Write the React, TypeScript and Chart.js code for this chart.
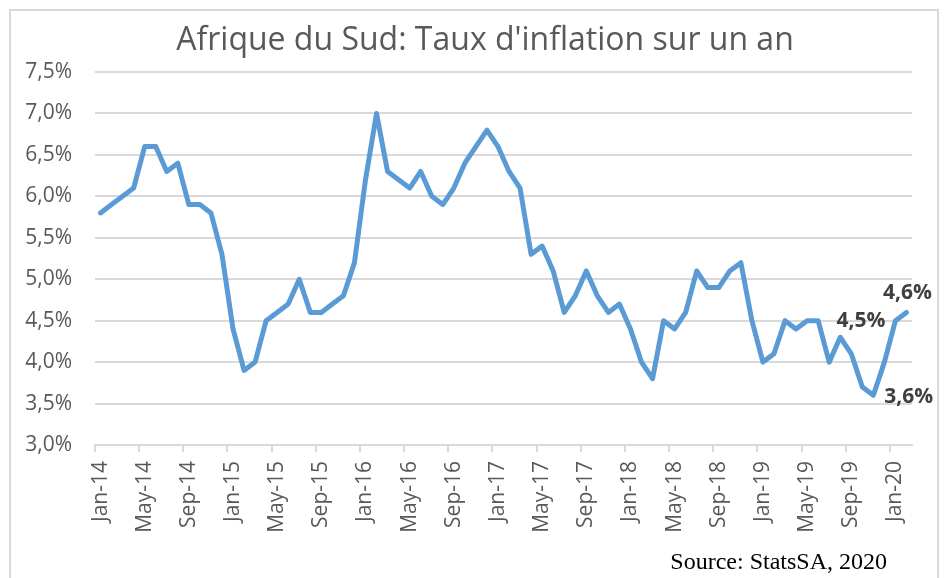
import React, { useEffect, useRef } from 'react';
import { Chart, registerables } from 'chart.js';

Chart.register(...registerables);

const TITLE = "Afrique du Sud: Taux d'inflation sur un an";
const SOURCE = 'Source: StatsSA, 2020';

const months: string[] = [
  'Jan-14', 'Feb-14', 'Mar-14', 'Apr-14', 'May-14', 'Jun-14', 'Jul-14', 'Aug-14', 'Sep-14', 'Oct-14', 'Nov-14', 'Dec-14',
  'Jan-15', 'Feb-15', 'Mar-15', 'Apr-15', 'May-15', 'Jun-15', 'Jul-15', 'Aug-15', 'Sep-15', 'Oct-15', 'Nov-15', 'Dec-15',
  'Jan-16', 'Feb-16', 'Mar-16', 'Apr-16', 'May-16', 'Jun-16', 'Jul-16', 'Aug-16', 'Sep-16', 'Oct-16', 'Nov-16', 'Dec-16',
  'Jan-17', 'Feb-17', 'Mar-17', 'Apr-17', 'May-17', 'Jun-17', 'Jul-17', 'Aug-17', 'Sep-17', 'Oct-17', 'Nov-17', 'Dec-17',
  'Jan-18', 'Feb-18', 'Mar-18', 'Apr-18', 'May-18', 'Jun-18', 'Jul-18', 'Aug-18', 'Sep-18', 'Oct-18', 'Nov-18', 'Dec-18',
  'Jan-19', 'Feb-19', 'Mar-19', 'Apr-19', 'May-19', 'Jun-19', 'Jul-19', 'Aug-19', 'Sep-19', 'Oct-19', 'Nov-19', 'Dec-19',
  'Jan-20', 'Feb-20',
];

const inflation: number[] = [
  5.8, 5.9, 6.0, 6.1, 6.6, 6.6, 6.3, 6.4, 5.9, 5.9, 5.8, 5.3,
  4.4, 3.9, 4.0, 4.5, 4.6, 4.7, 5.0, 4.6, 4.6, 4.7, 4.8, 5.2,
  6.2, 7.0, 6.3, 6.2, 6.1, 6.3, 6.0, 5.9, 6.1, 6.4, 6.6, 6.8,
  6.6, 6.3, 6.1, 5.3, 5.4, 5.1, 4.6, 4.8, 5.1, 4.8, 4.6, 4.7,
  4.4, 4.0, 3.8, 4.5, 4.4, 4.6, 5.1, 4.9, 4.9, 5.1, 5.2, 4.5,
  4.0, 4.1, 4.5, 4.4, 4.5, 4.5, 4.0, 4.3, 4.1, 3.7, 3.6, 4.0,
  4.5, 4.6,
];

const Y_MIN = 3.0;
const Y_MAX = 7.5;
const Y_STEP = 0.5;
const X_TICK_EVERY = 4;

const labelledIndices: number[] = [73, 72, 70];
const labelledPlacements: string[] = ['above', 'left', 'right'];

const fmtPct = (v: number) => v.toFixed(1).replace('.', ',') + '%';

const GREY_TEXT = '#595959';
const GRID = '#d9d9d9';
const LINE = '#5b9bd5';
const FONT = '"Open Sans", "Noto Sans", sans-serif';

const decorPlugin = {
  id: 'decor',
  afterDraw(chart: any) {
    const ctx = chart.ctx;
    ctx.save();
    // title
    ctx.fillStyle = GREY_TEXT;
    ctx.font = `400 32px ${FONT}`;
    ctx.textAlign = 'center';
    ctx.textBaseline = 'alphabetic';
    ctx.fillText(TITLE, 485, 50);
    // source
    ctx.fillStyle = '#000000';
    ctx.font = '24px "Liberation Serif", "Times New Roman", serif';
    ctx.textAlign = 'right';
    ctx.fillText(SOURCE, 887, 569);
    // data labels
    const meta = chart.getDatasetMeta(0);
    ctx.fillStyle = '#404040';
    ctx.font = `bold 21px ${FONT}`;
    labelledIndices.forEach((idx, k) => {
      const pt = meta.data[idx];
      if (!pt) return;
      const txt = fmtPct(inflation[idx]);
      const place = labelledPlacements[k];
      ctx.textBaseline = 'middle';
      if (place === 'above') {
        ctx.textAlign = 'center';
        ctx.fillText(txt, pt.x + 1, pt.y - 19);
      } else if (place === 'left') {
        ctx.textAlign = 'right';
        ctx.fillText(txt, pt.x - 10, pt.y);
      } else {
        ctx.textAlign = 'left';
        ctx.fillText(txt, pt.x + 11, pt.y + 2);
      }
    });
    ctx.restore();
  },
};

export default function App() {
  const canvasRef = useRef<HTMLCanvasElement | null>(null);

  useEffect(() => {
    if (!canvasRef.current) return;
    const chart = new Chart(canvasRef.current, {
      type: 'line',
      data: {
        labels: months,
        datasets: [
          {
            data: inflation,
            borderColor: LINE,
            backgroundColor: LINE,
            borderWidth: 5,
            pointRadius: 0,
            pointHoverRadius: 0,
            tension: 0,
            fill: false,
            borderJoinStyle: 'round',
            borderCapStyle: 'round',
          },
        ],
      },
      options: {
        animation: false,
        responsive: false,
        maintainAspectRatio: false,
        events: [],
        layout: { padding: { top: 72, right: 35, left: 0, bottom: 0 } },
        plugins: {
          legend: { display: false },
          tooltip: { enabled: false },
          title: { display: false },
        },
        scales: {
          x: {
            type: 'category',
            offset: true,
            afterFit: (scale: any) => {
              scale.height = 133;
            },
            grid: {
              display: true,
              offset: true,
              drawOnChartArea: false,
              drawTicks: true,
              tickLength: 7,
              lineWidth: 2,
              color: (c: any) => (c.index % X_TICK_EVERY === 0 ? GRID : 'rgba(0,0,0,0)'),
            },
            border: { display: true, color: GRID, width: 2 },
            ticks: {
              autoSkip: false,
              minRotation: 90,
              maxRotation: 90,
              padding: 9,
              color: GREY_TEXT,
              font: { family: FONT, size: 21 },
              callback: (_v: any, i: number) => (i % X_TICK_EVERY === 0 ? months[i] : ''),
            },
          },
          y: {
            min: Y_MIN,
            max: Y_MAX,
            afterFit: (scale: any) => {
              scale.width = 95;
            },
            grid: { color: GRID, lineWidth: 2, drawTicks: false },
            border: { display: false },
            ticks: {
              stepSize: Y_STEP,
              padding: 23,
              color: GREY_TEXT,
              font: { family: FONT, size: 21 },
              callback: (v: any) => fmtPct(Number(v)),
            },
          },
        },
      },
      plugins: [decorPlugin],
    } as any);
    return () => chart.destroy();
  }, []);

  return (
    <div style={{ position: 'fixed', left: 0, top: 0, width: 947, height: 578, background: '#fff', overflow: 'hidden' }}>
      <div
        style={{
          position: 'absolute',
          left: 9,
          top: 9,
          width: 930,
          height: 600,
          border: `2px solid ${GRID}`,
          boxSizing: 'border-box',
        }}
      />
      <canvas ref={canvasRef} width={947} height={578} style={{ position: 'absolute', left: 0, top: 0, width: 947, height: 578 }} />
    </div>
  );
}
